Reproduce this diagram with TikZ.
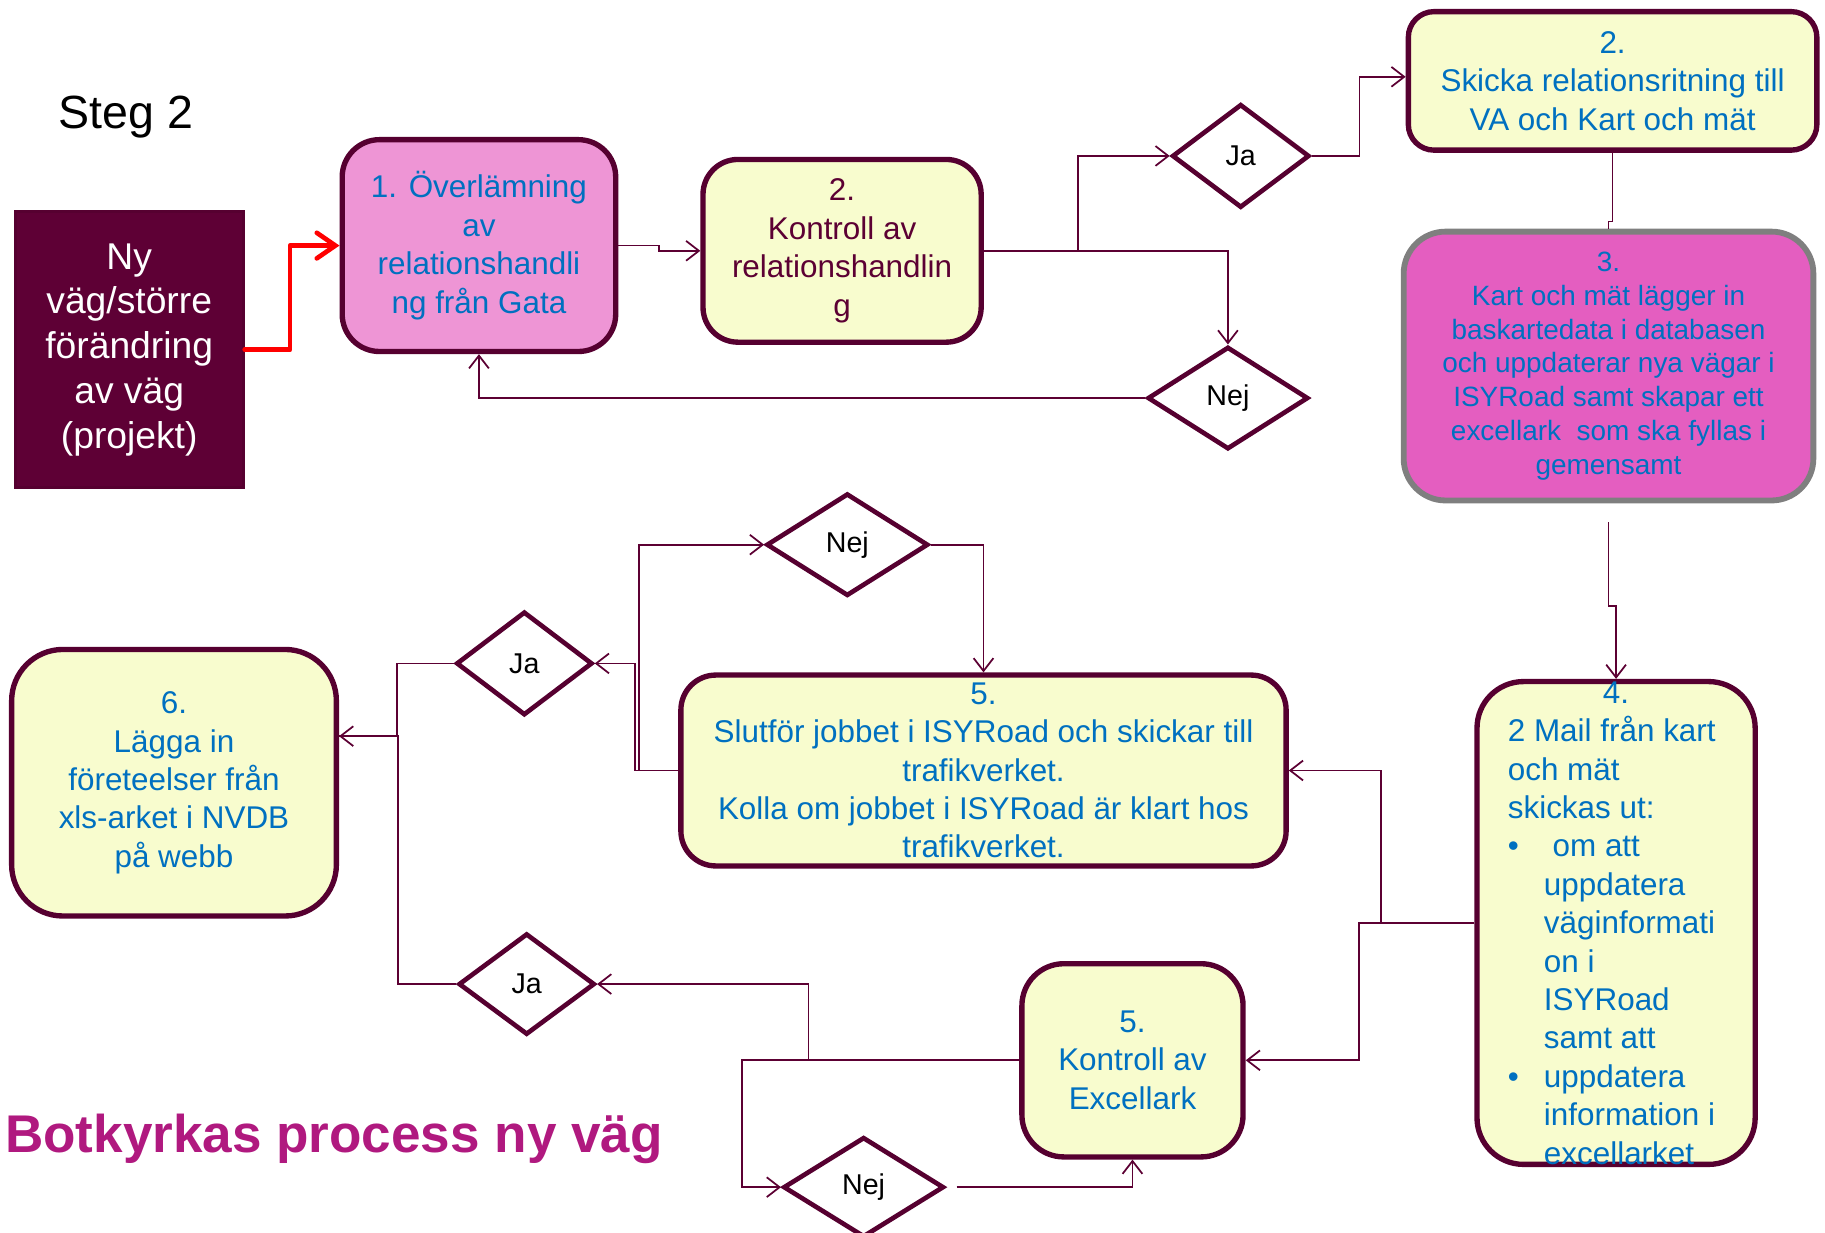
\documentclass[tikz,border=0pt]{standalone}
\usepackage{fontspec}
\setmainfont{Liberation Sans}
\usetikzlibrary{shapes.geometric, arrows.meta}
\definecolor{linecol}{HTML}{5C0033}
\definecolor{boxborder}{HTML}{560030}
\definecolor{startfill}{HTML}{5E0035}
\definecolor{pinkfill}{HTML}{EE95D5}
\definecolor{yellowfill}{HTML}{F8FCCE}
\definecolor{magfill}{HTML}{E45EC0}
\definecolor{greyborder}{HTML}{7F7F7F}
\definecolor{bluetext}{HTML}{0070C0}
\definecolor{titlecol}{HTML}{B0197F}
\tikzstyle{startbox} = [rectangle, minimum width=98pt, minimum height=118.5pt, align=center, draw=boxborder, line width=1.2pt, fill=startfill, text=white, font=\fontsize{16}{19.25}\selectfont]
\tikzstyle{process} = [rectangle, rounded corners=15pt, line width=2.3pt, draw=boxborder, fill=yellowfill, text=bluetext, align=center, inner sep=0pt, font=\fontsize{13.5}{16.5}\selectfont]
\tikzstyle{decision} = [diamond, draw=boxborder, line width=2pt, fill=white, inner sep=0pt, font=\fontsize{12.3}{14}\selectfont]
\tikzstyle{arrow} = [line width=0.75pt, draw=linecol, -{Straight Barb[length=5.5pt,width=8.5pt]}]
\tikzstyle{link} = [line width=0.75pt, draw=linecol]
\tikzstyle{redarrow} = [line width=2pt, draw=red, line cap=round, line join=round, -{Straight Barb[length=8pt,width=11pt,line cap=round]}]

\begin{document}
\begin{tikzpicture}[x=0.5pt, y=-0.5pt]
        \useasboundingbox (0,0) rectangle (1568,1058.6);
        % Titles
        \node (steg) [anchor=base west, inner sep=0pt, font=\fontsize{20}{24}\selectfont] at (50,110) {Steg 2};
        \node (title) [anchor=base west, inner sep=0pt, text=titlecol, font=\fontsize{22.8}{26}\selectfont\bfseries] at (4,990) {Botkyrkas process ny väg};

        % Nodes
        \node (ny) [startbox] at (111,300.5) {Ny\\väg/större\\förändring\\av väg\\(projekt)};
        \node (overl) [process, fill=pinkfill, rounded corners=16pt, minimum width=117.5pt, minimum height=91pt] at (411.5,211) {1. Överlämning\\av\\relationshandli\\ng från Gata};
        \node (kontroll) [process, text=linecol, minimum width=119.5pt, minimum height=78.5pt] at (723.5,215.5) {2.\\Kontroll av\\relationshandlin\\g};
        \node (ja1) [decision, minimum width=59pt, minimum height=44.5pt] at (1066,134) {Ja};
        \node (nej1) [decision, minimum width=69pt, minimum height=44pt] at (1055,342) {Nej};
        \node (skicka) [process, rounded corners=11pt, minimum width=175.5pt, minimum height=59.5pt] at (1385.5,69.5) {2.\\Skicka relationsritning till\\VA och Kart och mät};
        \node (kart) [process, fill=magfill, draw=greyborder, line width=2.5pt, rounded corners=18pt, minimum width=176pt, minimum height=115.5pt, font=\fontsize{12}{14.5}\selectfont] at (1382,314.5) {3.\\Kart och mät lägger in\\baskartedata i databasen\\och uppdaterar nya vägar i\\ISYRoad samt skapar ett\\excellark\ \ som ska fyllas i\\gemensamt};
        \node (mail) [process, rounded corners=20pt, minimum width=119.5pt, minimum height=195pt, align=left] at (1388.5,793) {\makebox[93pt]{4.}\\2 Mail från kart\\och mät\\skickas ut:\\\makebox[15.5pt][l]{•}\ om att\\\hspace*{15.5pt}uppdatera\\\hspace*{15.5pt}väginformati\\\hspace*{15.5pt}on i\\\hspace*{15.5pt}ISYRoad\\\hspace*{15.5pt}samt att\\\makebox[15.5pt][l]{•}uppdatera\\\hspace*{15.5pt}information i\\\hspace*{15.5pt}excellarket};
        \node (slutfor) [process, minimum width=260pt, minimum height=82pt] at (845,662) {5.\\Slutför jobbet i ISYRoad och skickar till\\trafikverket.\\Kolla om jobbet i ISYRoad är klart hos\\trafikverket.};
        \node (nej2) [decision, minimum width=69.5pt, minimum height=44pt] at (728,468) {Nej};
        \node (ja2) [decision, minimum width=58.5pt, minimum height=44.5pt] at (450.5,570) {Ja};
        \node (lagga) [process, rounded corners=22pt, minimum width=139.5pt, minimum height=114.5pt] at (149.5,672.5) {6.\\Lägga in\\företeelser från\\xls-arket i NVDB\\på webb};
        \node (ja3) [decision, minimum width=58.5pt, minimum height=43.5pt] at (452.5,845.5) {Ja};
        \node (excel) [process, rounded corners=18pt, minimum width=95pt, minimum height=83pt] at (973,911) {5.\\Kontroll av\\Excellark};
        \node (nej3) [decision, minimum width=69pt, minimum height=43pt] at (742,1020) {Nej};

        % Arrows
        \draw [redarrow] (ny.east) -- ++(39,0) |- (overl.west);
        \draw [arrow] (overl.east) -- ++(35,0) |- (kontroll.west);
        \draw [arrow] (kontroll.east) -- ++(81,0) |- (ja1.west);
        \draw [arrow] (kontroll.east) -| (nej1.north);
        \draw [arrow] (ja1.east) -- ++(41,0) |- ([yshift=1.75pt]skicka.west);
        \draw [arrow] (nej1.west) -| (overl.south);
        \draw [link] (skicka.south) -- ++(0,59) -| (kart.north);
        \draw [arrow, shorten <=8pt] (kart.south) -- ++(0,88) -| (mail.north);
        \draw [arrow] (mail.west) -- ++(-80,0) |- (slutfor.east);
        \draw [arrow] (mail.west) -- ++(-99,0) |- (excel.east);
        \draw [arrow] (excel.west) -- ++(-238,0) |- (nej3.west);
        \draw [arrow] (excel.west) ++(-181,0) |- (ja3.east);
        \draw [arrow, shorten <=4.5pt] (nej3.east) -| (excel.south);
        \draw [arrow] (ja3.west) -- ++(-50,0) |- ([yshift=20pt]lagga.east);
        \draw [link] (ja2.west) -- ++(-49,0) |- ([yshift=20pt]lagga.east);
        \draw [arrow] (slutfor.west) -- ++(-37,0) |- (ja2.east);
        \draw [arrow] (slutfor.west) -- ++(-34,0) |- (nej2.west);
        \draw [arrow] (nej2.east) -| (slutfor.north);
    \end{tikzpicture}
\end{document}
